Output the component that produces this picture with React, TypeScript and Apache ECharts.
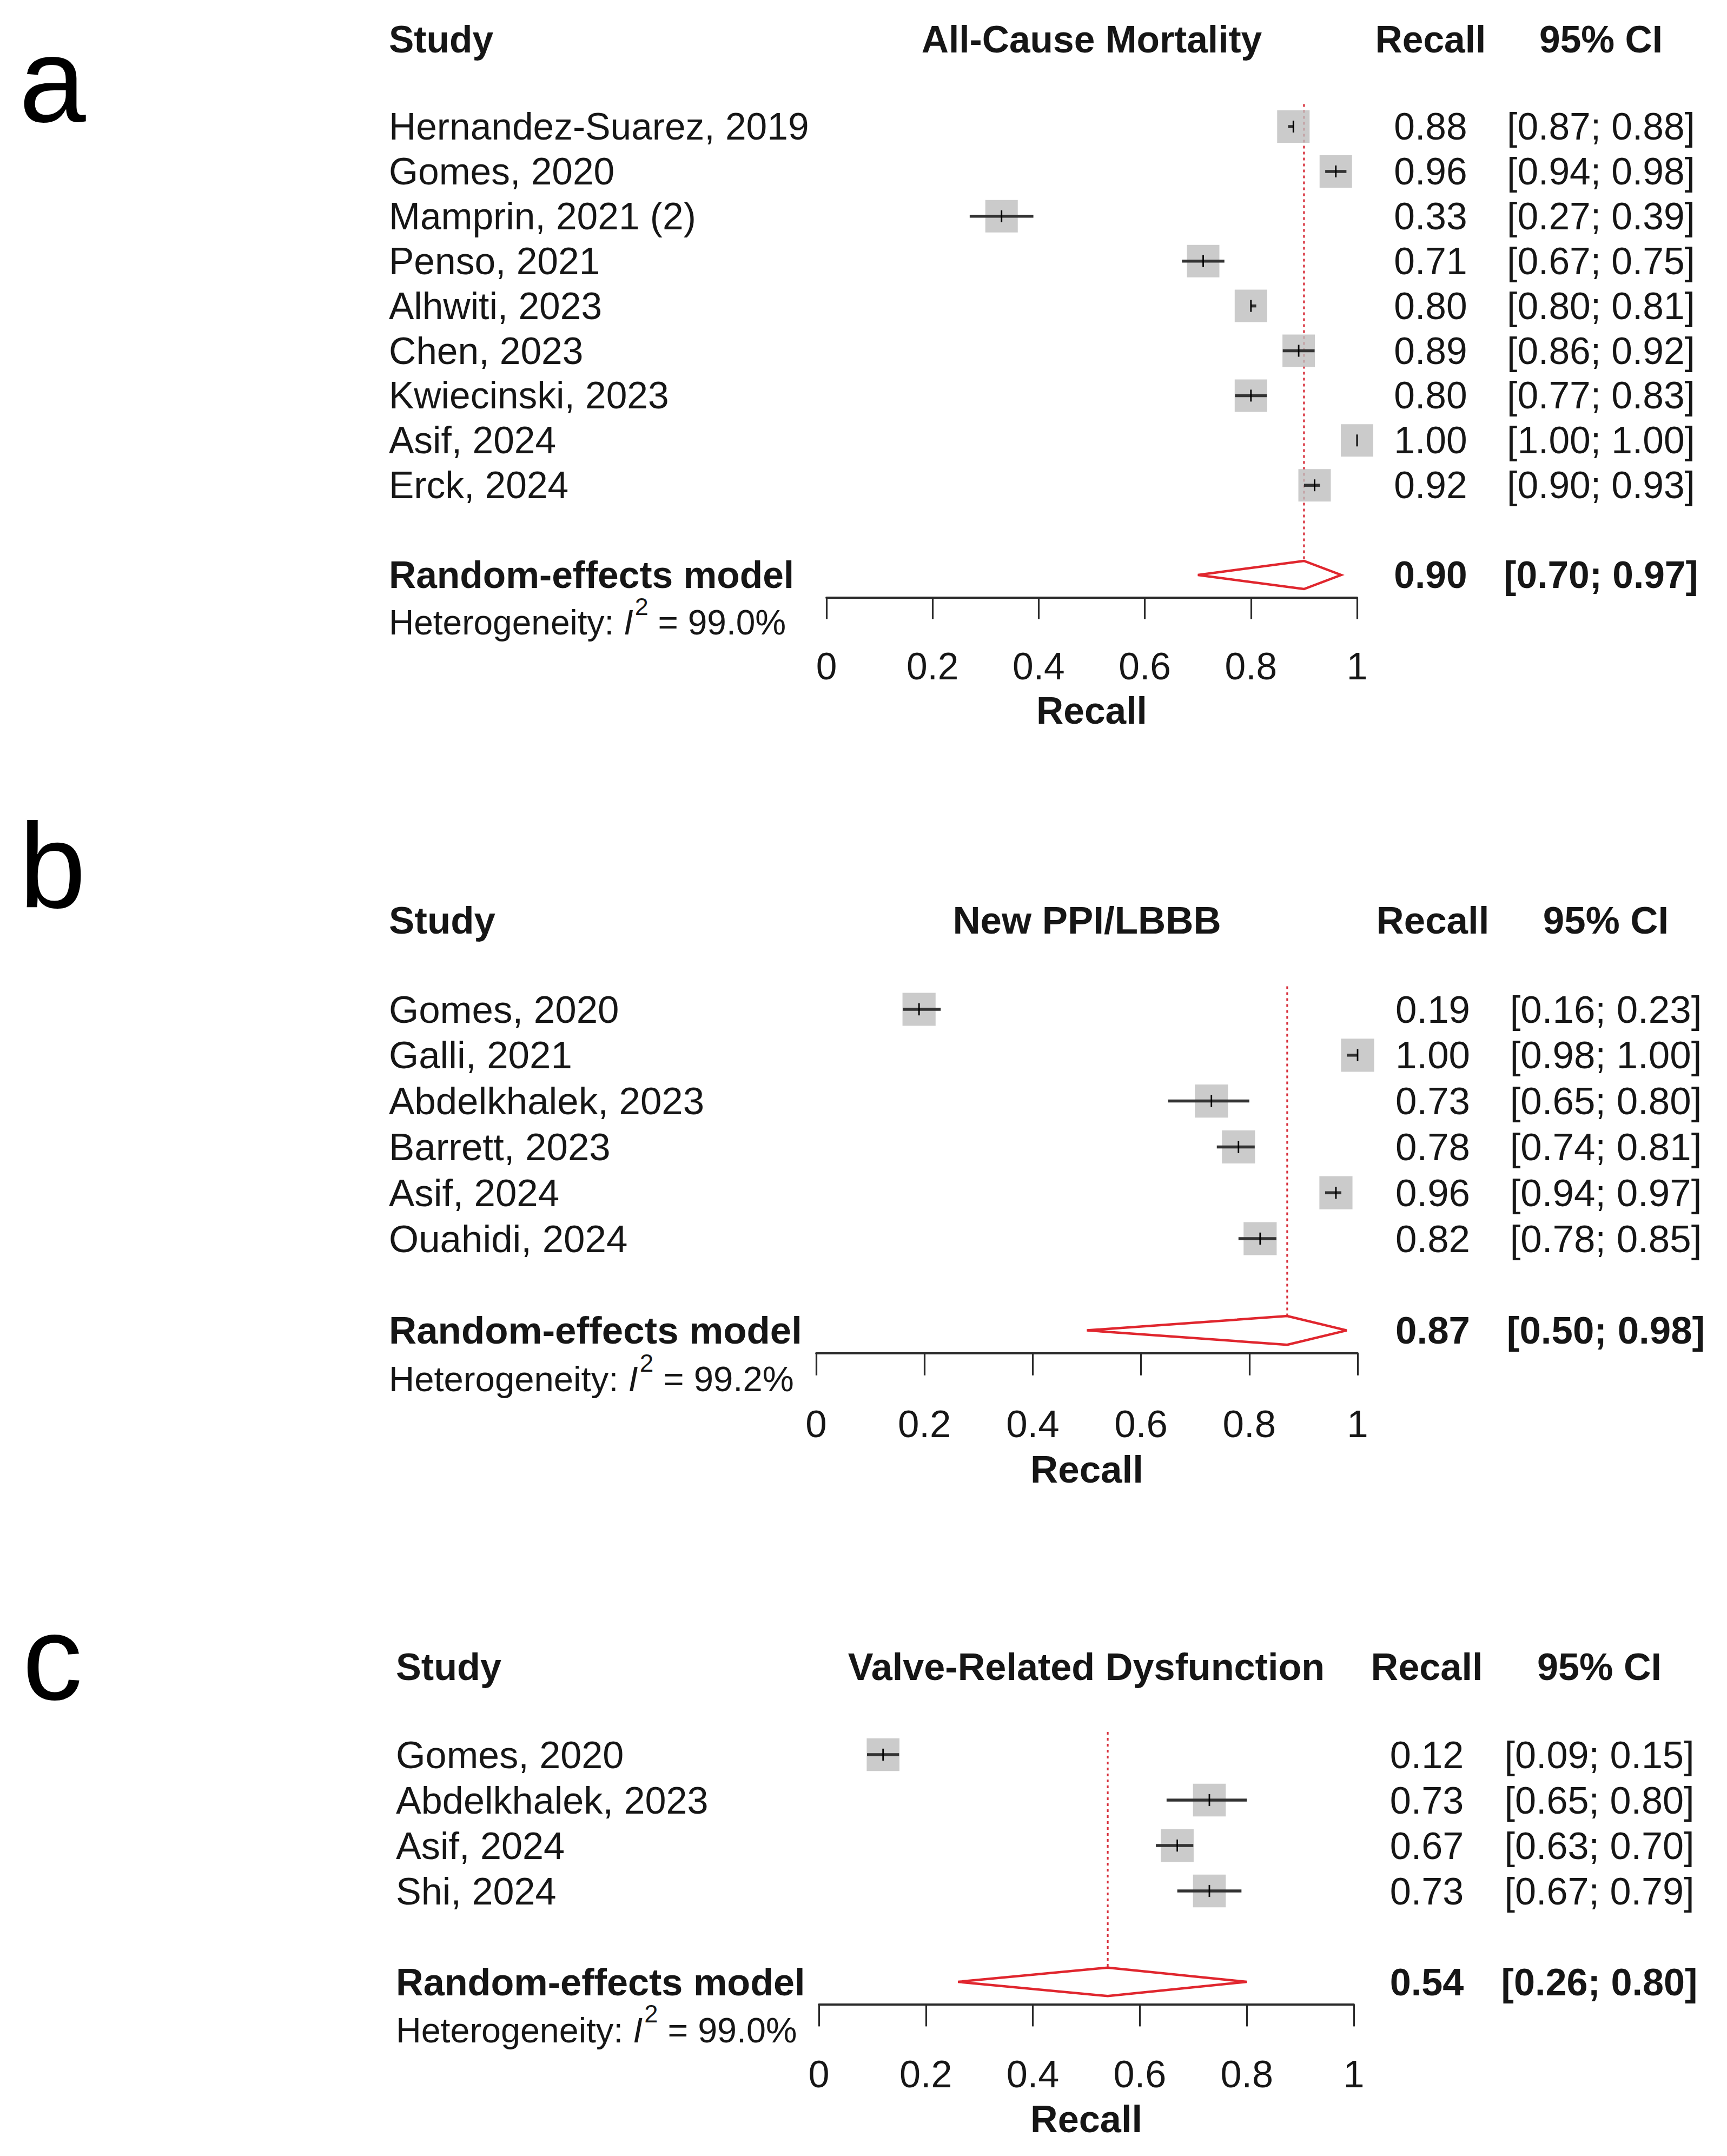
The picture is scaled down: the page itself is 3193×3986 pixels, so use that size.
import React, { useEffect, useRef } from "react";
import * as echarts from "echarts";

// ---------------- data ----------------
const studiesA = [
  "Hernandez-Suarez, 2019",
  "Gomes, 2020",
  "Mamprin, 2021 (2)",
  "Penso, 2021",
  "Alhwiti, 2023",
  "Chen, 2023",
  "Kwiecinski, 2023",
  "Asif, 2024",
  "Erck, 2024",
];
const recallA = [0.88, 0.96, 0.33, 0.71, 0.8, 0.89, 0.8, 1.0, 0.92];
const lowerA = [0.87, 0.94, 0.27, 0.67, 0.8, 0.86, 0.77, 1.0, 0.9];
const upperA = [0.88, 0.98, 0.39, 0.75, 0.81, 0.92, 0.83, 1.0, 0.93];
const pooledA = [0.9, 0.7, 0.97]; // estimate, lower, upper
const i2A = "99.0%";

const studiesB = [
  "Gomes, 2020",
  "Galli, 2021",
  "Abdelkhalek, 2023",
  "Barrett, 2023",
  "Asif, 2024",
  "Ouahidi, 2024",
];
const recallB = [0.19, 1.0, 0.73, 0.78, 0.96, 0.82];
const lowerB = [0.16, 0.98, 0.65, 0.74, 0.94, 0.78];
const upperB = [0.23, 1.0, 0.8, 0.81, 0.97, 0.85];
const pooledB = [0.87, 0.5, 0.98];
const i2B = "99.2%";

const studiesC = ["Gomes, 2020", "Abdelkhalek, 2023", "Asif, 2024", "Shi, 2024"];
const recallC = [0.12, 0.73, 0.67, 0.73];
const lowerC = [0.09, 0.65, 0.63, 0.67];
const upperC = [0.15, 0.8, 0.7, 0.79];
const pooledC = [0.54, 0.26, 0.8];
const i2C = "99.0%";

const panelLetters = ["a", "b", "c"];
const outcomeTitles = ["All-Cause Mortality", "New PPI/LBBB", "Valve-Related Dysfunction"];
const columnHeaders = ["Study", "Recall", "95% CI"];
const modelLabel = "Random-effects model";
const hetLabel = "Heterogeneity: ";
const hetSymbol = "I";
const hetSup = "2";
const axisTitle = "Recall";
const xTickStep = 0.2;

// ---------------- layout / style ----------------
const W = 3193;
const H = 3986;
const FONT_NAME = "Liberation Sans";
const FONT = "'Liberation Sans', Arial, Helvetica, sans-serif";
const INK = "#161616";
const AXIS_INK = "#2a2a2a";
const SQUARE_GREY = "#BEBEBE";
const CI_INK = "#333333";
const DIAMOND_RED = "#E0262E";
const REF_RED = "#D8303C";

const LAYOUT = [
  { left: 1528, right: 2509, row0: 234, step: 82.9, scale: 1.0, nameX: 719, recallX: 2645, ciX: 2960, letterY: 148 },
  { left: 1509, right: 2510, row0: 1866, step: 84.8, scale: 1.02, nameX: 719, recallX: 2649, ciX: 2969, letterY: 1600 },
  { left: 1514, right: 2503, row0: 3244, step: 84.0, scale: 1.01, nameX: 732, recallX: 2638, ciX: 2957, letterY: 3065 },
];

const PANELS = [
  { studies: studiesA, est: recallA, lo: lowerA, hi: upperA, pooled: pooledA, i2: i2A },
  { studies: studiesB, est: recallB, lo: lowerB, hi: upperB, pooled: pooledB, i2: i2B },
  { studies: studiesC, est: recallC, lo: lowerC, hi: upperC, pooled: pooledC, i2: i2C },
];

const f2 = (v: number) => v.toFixed(2);
const ciText = (lo: number, hi: number) => `[${f2(lo)}; ${f2(hi)}]`;

let measureCtx: CanvasRenderingContext2D | null = null;
function textWidth(t: string, fs: number, italic = false) {
  if (!measureCtx) measureCtx = document.createElement("canvas").getContext("2d");
  if (!measureCtx) return t.length * fs * 0.55;
  measureCtx.font = `${italic ? "italic " : ""}${fs}px '${FONT_NAME}', Arial, sans-serif`;
  return measureCtx.measureText(t).width;
}

function txt(x: number, y: number, text: string, fs: number, bold = false, align = "left", extra: any = {}) {
  return {
    type: "text",
    x,
    y,
    silent: true,
    style: {
      text,
      fill: INK,
      fontSize: fs,
      fontFamily: FONT,
      fontWeight: bold ? "bold" : "normal",
      align,
      verticalAlign: "middle",
      ...extra,
    },
  };
}

function buildOption() {
  const grid: any[] = [];
  const xAxis: any[] = [];
  const yAxis: any[] = [];
  const series: any[] = [];
  const graphic: any[] = [];

  PANELS.forEach((p, k) => {
    const L = LAYOUT[k];
    const n = p.studies.length;
    const reRow = n + 1;
    const s = L.scale;
    const fs = 69.5 * s;
    const hetFs = 64 * s;
    const supFs = 45 * s;
    const sq = 60 * s;
    const tickH = 11 * s;
    const dHalf = 26 * s;

    grid.push({
      left: L.left,
      top: L.row0 - 2 * L.step,
      width: L.right - L.left,
      height: (n + 3.5) * L.step,
    });
    xAxis.push({
      gridIndex: k,
      type: "value",
      min: 0,
      max: 1,
      interval: xTickStep,
      position: "bottom",
      axisLine: { show: true, onZero: false, lineStyle: { color: AXIS_INK, width: 3.8 } },
      axisTick: { show: true, inside: false, length: 40 * s, lineStyle: { color: AXIS_INK, width: 3.2 } },
      axisLabel: { show: true, margin: 93 * s, fontSize: fs, fontFamily: FONT, color: INK },
      splitLine: { show: false },
      name: axisTitle,
      nameLocation: "middle",
      nameGap: 175 * s,
      nameTextStyle: { fontSize: fs, fontFamily: FONT, fontWeight: "bold", color: INK },
    });
    yAxis.push({ gridIndex: k, type: "value", min: -2, max: n + 1.5, inverse: true, show: false });

    // reference line at pooled estimate
    series.push({
      type: "custom",
      xAxisIndex: k,
      yAxisIndex: k,
      z: 1,
      silent: true,
      clip: false,
      data: [[p.pooled[0], -0.5, reRow]],
      encode: { x: 0, y: [1, 2] },
      renderItem: (_params: any, api: any) => {
        const a = api.coord([api.value(0), api.value(1)]);
        const b = api.coord([api.value(0), api.value(2)]);
        return {
          type: "line",
          shape: { x1: a[0], y1: a[1], x2: b[0], y2: b[1] - dHalf },
          style: { stroke: REF_RED, lineWidth: 3.2, lineDash: [5, 6] },
        };
      },
    });

    // study squares
    series.push({
      type: "scatter",
      xAxisIndex: k,
      yAxisIndex: k,
      z: 2,
      silent: true,
      clip: false,
      symbol: "rect",
      symbolSize: sq,
      itemStyle: { color: SQUARE_GREY },
      data: p.est.map((v, i) => [v, i]),
    });

    // confidence intervals
    series.push({
      type: "custom",
      xAxisIndex: k,
      yAxisIndex: k,
      z: 3,
      silent: true,
      clip: false,
      data: p.lo.map((lo, i) => [lo, p.hi[i], p.est[i], i]),
      encode: { x: [0, 1, 2], y: 3 },
      renderItem: (_params: any, api: any) => {
        const y = api.value(3);
        const a = api.coord([api.value(0), y]);
        const b = api.coord([api.value(1), y]);
        const c = api.coord([api.value(2), y]);
        return {
          type: "group",
          children: [
            { type: "line", shape: { x1: a[0], y1: a[1], x2: b[0], y2: b[1] }, style: { stroke: CI_INK, lineWidth: 5.5 } },
            { type: "line", shape: { x1: c[0], y1: c[1] - tickH, x2: c[0], y2: c[1] + tickH }, style: { stroke: "#000", lineWidth: 2.8 } },
          ],
        };
      },
    });

    // pooled diamond
    series.push({
      type: "custom",
      xAxisIndex: k,
      yAxisIndex: k,
      z: 4,
      silent: true,
      clip: false,
      data: [[p.pooled[1], p.pooled[0], p.pooled[2], reRow]],
      encode: { x: [0, 1, 2], y: 3 },
      renderItem: (_params: any, api: any) => {
        const y = api.value(3);
        const l = api.coord([api.value(0), y]);
        const c = api.coord([api.value(1), y]);
        const r = api.coord([api.value(2), y]);
        return {
          type: "polygon",
          shape: { points: [l, [c[0], c[1] - dHalf], r, [c[0], c[1] + dHalf]] },
          style: { fill: "#ffffff", stroke: DIAMOND_RED, lineWidth: 4.5, lineJoin: "miter" },
        };
      },
    });

    // study rows text (names, recall, CI)
    series.push({
      type: "custom",
      xAxisIndex: k,
      yAxisIndex: k,
      z: 5,
      silent: true,
      clip: false,
      data: p.studies.map((_, i) => [0, i]),
      encode: { x: 0, y: 1 },
      renderItem: (params: any, api: any) => {
        const i = params.dataIndex;
        const y = api.coord([0, api.value(1)])[1];
        return {
          type: "group",
          children: [
            txt(L.nameX, y, p.studies[i], fs, false, "left"),
            txt(L.recallX, y, f2(p.est[i]), fs, false, "center"),
            txt(L.ciX, y, ciText(p.lo[i], p.hi[i]), fs, false, "center"),
          ],
        };
      },
    });

    // headers, pooled row and heterogeneity
    const wLabel = textWidth(hetLabel, hetFs);
    const wI = textWidth(hetSymbol, hetFs, true);
    const wSup = textWidth(hetSup, supFs);
    series.push({
      type: "custom",
      xAxisIndex: k,
      yAxisIndex: k,
      z: 5,
      silent: true,
      clip: false,
      data: [[0.5, -1.94, reRow, reRow + 1.06]],
      encode: { x: 0, y: [1, 2, 3] },
      renderItem: (_params: any, api: any) => {
        const hy = api.coord([api.value(0), api.value(1)]);
        const ry = api.coord([0, api.value(2)])[1];
        const ty = api.coord([0, api.value(3)])[1];
        const xI = L.nameX + wLabel;
        const xSup = xI + wI + 3 * s;
        const xRest = xSup + wSup;
        return {
          type: "group",
          children: [
            txt(L.nameX, hy[1], columnHeaders[0], fs, true, "left"),
            txt(hy[0], hy[1], outcomeTitles[k], fs, true, "center"),
            txt(L.recallX, hy[1], columnHeaders[1], fs, true, "center"),
            txt(L.ciX, hy[1], columnHeaders[2], fs, true, "center"),
            txt(L.nameX, ry, modelLabel, fs, true, "left"),
            txt(L.recallX, ry, f2(p.pooled[0]), fs, true, "center"),
            txt(L.ciX, ry, ciText(p.pooled[1], p.pooled[2]), fs, true, "center"),
            txt(L.nameX, ty, hetLabel, hetFs, false, "left"),
            txt(xI, ty, hetSymbol, hetFs, false, "left", { fontStyle: "italic" }),
            txt(xSup, ty - 29 * s, hetSup, supFs, false, "left", { lineHeight: 36 * s }),
            txt(xRest, ty, ` = ${p.i2}`, hetFs, false, "left"),
          ],
        };
      },
    });

    graphic.push({
      type: "text",
      x: 97,
      y: L.letterY,
      silent: true,
      style: {
        text: panelLetters[k],
        fill: "#000",
        fontSize: 222,
        fontFamily: FONT,
        align: "center",
        verticalAlign: "middle",
      },
    });
  });

  return {
    animation: false,
    backgroundColor: "#ffffff",
    grid,
    xAxis,
    yAxis,
    series,
    graphic,
  };
}

export default function App() {
  const ref = useRef<HTMLDivElement>(null);
  useEffect(() => {
    document.body.style.margin = "0";
    document.body.style.overflow = "hidden";
    if (!ref.current) return;
    const chart = echarts.init(ref.current, null, { renderer: "svg", width: W, height: H });
    chart.setOption(buildOption() as any);
    return () => chart.dispose();
  }, []);
  return (
    <div
      ref={ref}
      style={{ position: "absolute", left: 0, top: 0, width: W, height: H, background: "#ffffff" }}
    />
  );
}
